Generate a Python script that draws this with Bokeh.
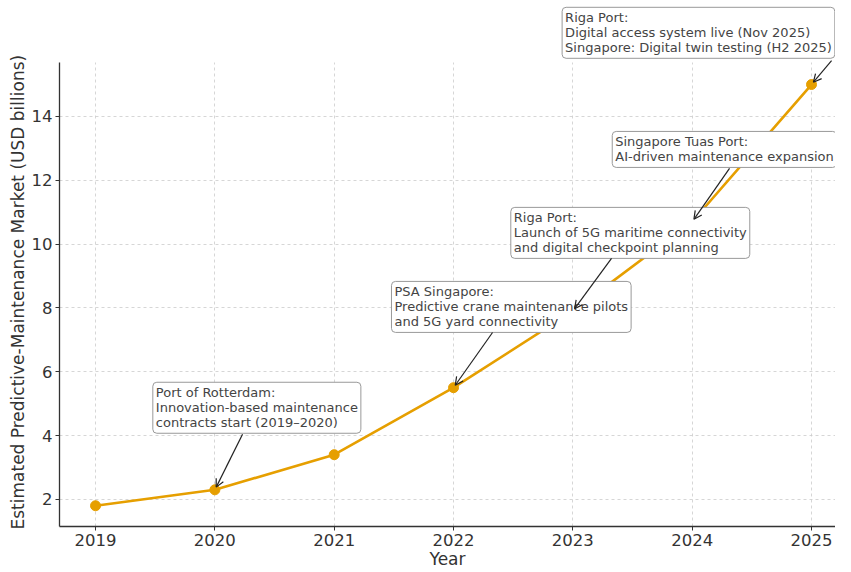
from bokeh.plotting import figure
from bokeh.models import (Range1d, Label, Arrow, OpenHead, FixedTicker, ColumnDataSource,
                          BoxAnnotation, Title)
from bokeh.embed import file_html
from bokeh.resources import INLINE

# ---- data ----
years = [2019, 2020, 2021, 2022, 2023, 2024, 2025]
market = [1.8, 2.3, 3.4, 5.5, 7.9, 10.7, 15.0]
x_ticks = [2019, 2020, 2021, 2022, 2023, 2024, 2025]
y_ticks = [2, 4, 6, 8, 10, 12, 14]

event_years = [2020, 2022, 2023, 2024, 2025]
event_texts = [
    "Port of Rotterdam:\nInnovation-based maintenance\ncontracts start (2019\u20132020)",
    "PSA Singapore:\nPredictive crane maintenance pilots\nand 5G yard connectivity",
    "Riga Port:\nLaunch of 5G maritime connectivity\nand digital checkpoint planning",
    "Singapore Tuas Port:\nAI-driven maintenance expansion",
    "Riga Port:\nDigital access system live (Nov 2025)\nSingapore: Digital twin testing (H2 2025)",
]
# box top-left positions and arrow start positions (data units)
label_pos = [(2019.48, 5.67), (2021.48, 8.83), (2022.48, 11.15), (2023.33, 13.53), (2022.91, 17.42)]
arrow_start = [(2020.232, 4.04), (2022.327, 7.23), (2023.324, 9.55), (2024.313, 12.37), (2025.168, 15.75)]

ORANGE = "#E69F00"
FONT = "DejaVu Sans"

Y_TOP_VISIBLE = 15.69
X0 = 2018.698
Y0 = 1.15

p = figure(width=835, height=572, output_backend="svg", toolbar_location=None,
           x_range=Range1d(X0, 2025.201), y_range=Range1d(Y0, 17.633),
           min_border_left=59, min_border_right=0, min_border_top=0, min_border_bottom=46)
p.outline_line_color = None
p.background_fill_color = "white"

for ax in (p.xaxis, p.yaxis):
    ax.axis_line_color = "#333333"
    ax.axis_line_width = 1.3
    ax.major_tick_line_color = "#333333"
    ax.major_tick_out = 4
    ax.major_tick_in = 0
    ax.minor_tick_line_color = None
    ax.major_label_text_font = FONT
    ax.major_label_text_font_size = "16.5px"
    ax.major_label_text_color = "#333333"
    ax.axis_label_text_font = FONT
    ax.axis_label_text_font_size = "17px"
    ax.axis_label_text_font_style = "normal"
    ax.axis_label_text_color = "#333333"
    ax.major_label_standoff = 3

p.xaxis.ticker = FixedTicker(ticks=x_ticks)
p.yaxis.ticker = FixedTicker(ticks=y_ticks)
p.yaxis.bounds = (Y0, Y_TOP_VISIBLE)
p.xaxis.axis_label = "Year"
p.xaxis.axis_label_standoff = 0

# y-axis title, positioned along the visible part of the axis
p.add_layout(Title(text="Estimated Predictive-Maintenance Market (USD billions)",
                   align="left", offset=-3, standoff=2,
                   text_font=FONT, text_font_size="17px", text_font_style="normal",
                   text_color="#333333"), "left")

for g in (p.xgrid, p.ygrid):
    g.grid_line_color = "#cccccc"
    g.grid_line_dash = "3 3"
    g.grid_line_width = 0.8
p.xgrid.ticker = FixedTicker(ticks=x_ticks)
p.ygrid.ticker = FixedTicker(ticks=y_ticks)

# blank the area above the visible plotting region (grid lines stop at the top spine)
p.add_layout(BoxAnnotation(bottom=Y_TOP_VISIBLE, fill_color="white", fill_alpha=1.0,
                           line_color=None, level="underlay"))

src = ColumnDataSource(dict(x=years, y=market))
p.line("x", "y", source=src, line_color=ORANGE, line_width=2.6)
p.scatter("x", "y", source=src, size=10, fill_color=ORANGE, line_color=ORANGE)

for (lx, ly), txt in zip(label_pos, event_texts):
    p.add_layout(Label(x=lx, y=ly, text=txt, text_align="left", text_baseline="top",
                       text_font=FONT, text_font_size="13px", text_color="#444444",
                       text_line_height=1.0,
                       background_fill_color="white", background_fill_alpha=1.0,
                       border_line_color="#999999", border_line_width=1,
                       padding=3, border_radius=4))

SX, SY = 119.33, 31.91
for (sx, sy), ey in zip(arrow_start, event_years):
    py = market[years.index(ey)]
    dxp, dyp = (sx - ey) * SX, (sy - py) * SY
    d = (dxp ** 2 + dyp ** 2) ** 0.5
    shrink = 3.0 / d
    ex, ey2 = ey + (sx - ey) * shrink, py + (sy - py) * shrink
    p.add_layout(Arrow(x_start=sx, y_start=sy, x_end=ex, y_end=ey2,
                       line_color="#222222", line_width=1.2,
                       end=OpenHead(size=8, line_color="#222222", line_width=1.2)))

open("out.html", "w").write(file_html(p, INLINE))
